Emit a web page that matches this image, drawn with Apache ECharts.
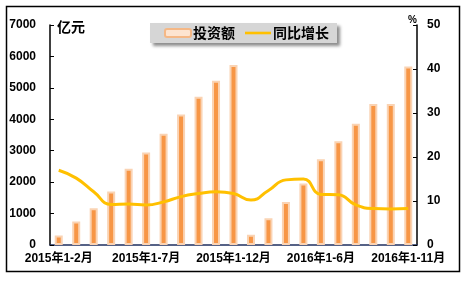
<!DOCTYPE html>
<html><head><meta charset="utf-8">
<script src="https://cdn.jsdelivr.net/npm/echarts@6/dist/echarts.min.js"></script>
<style>html,body{margin:0;padding:0;background:#fff}#c{width:466px;height:283px}</style>
</head><body><div id="c"></div>
<script>
var categories = ['2015年1-2月','2015年1-3月','2015年1-4月','2015年1-5月','2015年1-6月','2015年1-7月','2015年1-8月','2015年1-9月','2015年1-10月','2015年1-11月','2015年1-12月',
  '2016年1-2月','2016年1-3月','2016年1-4月','2016年1-5月','2016年1-6月','2016年1-7月','2016年1-8月','2016年1-9月','2016年1-10月','2016年1-11月'];
var investment = [300, 745, 1170, 1700, 2430, 2940, 3540, 4150, 4720, 5230, 5730,
  330, 850, 1370, 1960, 2725, 3300, 3860, 4490, 4490, 5680];
var growth = [17.0, 15.2, 12.1, 9.2, 9.3, 9.1, 9.8, 11.0, 11.7, 12.1, 11.7,
  10.2, 12.4, 14.8, 15.0, 11.5, 11.4, 9.1, 8.3, 8.2, 8.3];
var leftTicks = [0, 1000, 2000, 3000, 4000, 5000, 6000, 7000];
var rightTicks = [0, 10, 20, 30, 40, 50];
var seriesNames = ['投资额', '同比增长'];

var font = '"Liberation Sans", "Noto Sans CJK SC", sans-serif';
var chart = echarts.init(document.getElementById('c'));
chart.setOption({
  animation: false,
  textStyle: {fontFamily: font},
  graphic: [{type: 'rect', shape: {x: 6.5, y: 6.5, width: 453, height: 265}, style: {fill: 'none', stroke: '#000', lineWidth: 1.5}, silent: true, z: -1},
    {type: 'text', left: 57, top: 20, style: {text: '亿元', font: 'bold 14px "Noto Sans CJK SC"', fill: '#000'}},
    {type: 'text', left: 408, top: 15, style: {text: '%', font: 'bold 10px ' + font, fill: '#000'}}],
  legend: {
    left: 150, top: 23, width: 184,
    padding: [3, 8, 3, 14],
    backgroundColor: '#D6D6D6',
    shadowColor: 'rgba(0,0,0,0.45)', shadowBlur: 3, shadowOffsetX: 3, shadowOffsetY: 3,
    itemGap: 10,
    itemWidth: 26, itemHeight: 8,
    textStyle: {fontSize: 14, fontWeight: 'bold', color: '#000', fontFamily: '"Noto Sans CJK SC"', padding: [0, 0, 0, -3]},
    data: [{name: seriesNames[0], itemStyle: {color: '#FDE4D0', borderColor: '#F5B886', borderWidth: 2}},
      {name: seriesNames[1], icon: 'path://M0,0 L30,0 L30,3 L0,3 Z', itemStyle: {color: '#FFC000'}}]
  },
  grid: {left: 50, right: 49, top: 25, bottom: 38},
  xAxis: {
    type: 'category', data: categories,
    axisLine: {lineStyle: {color: '#1F2F5F', width: 1.5}},
    axisTick: {alignWithLabel: false, interval: 0, length: 4, inside: false, lineStyle: {color: '#1F2F5F'}},
    axisLabel: {interval: 4, margin: 8, fontSize: 12, fontWeight: 'bold', color: '#000', fontFamily: font}
  },
  yAxis: [{
    type: 'value', min: 0, max: 7000, interval: 1000,
    axisLine: {show: true, lineStyle: {color: '#000', width: 1.5}},
    axisTick: {show: true, length: 4, inside: true, lineStyle: {color: '#000'}},
    splitLine: {show: false},
    axisLabel: {margin: 14, fontSize: 12, fontWeight: 'bold', color: '#000', fontFamily: font,
      formatter: function (v) { return leftTicks.indexOf(v) >= 0 ? String(v) : ''; }}
  }, {
    type: 'value', min: 0, max: 50, interval: 10,
    axisLine: {show: true, lineStyle: {color: '#000', width: 1.5}},
    axisTick: {show: true, length: 4, inside: true, lineStyle: {color: '#000'}},
    splitLine: {show: false},
    axisLabel: {margin: 10, fontSize: 12, fontWeight: 'bold', color: '#000', fontFamily: font,
      formatter: function (v) { return rightTicks.indexOf(v) >= 0 ? String(v) : ''; }}
  }],
  series: [{
    name: seriesNames[0], type: 'bar', data: investment, barWidth: 8,
    itemStyle: {color: '#F79646', borderColor: '#FAD3B3', borderWidth: 2}
  }, {
    name: seriesNames[1], type: 'line', yAxisIndex: 1, data: growth, smooth: 0.5,
    symbol: 'none', lineStyle: {color: '#FFC000', width: 3}, itemStyle: {color: '#FFC000'}
  }]
});
</script></body></html>
